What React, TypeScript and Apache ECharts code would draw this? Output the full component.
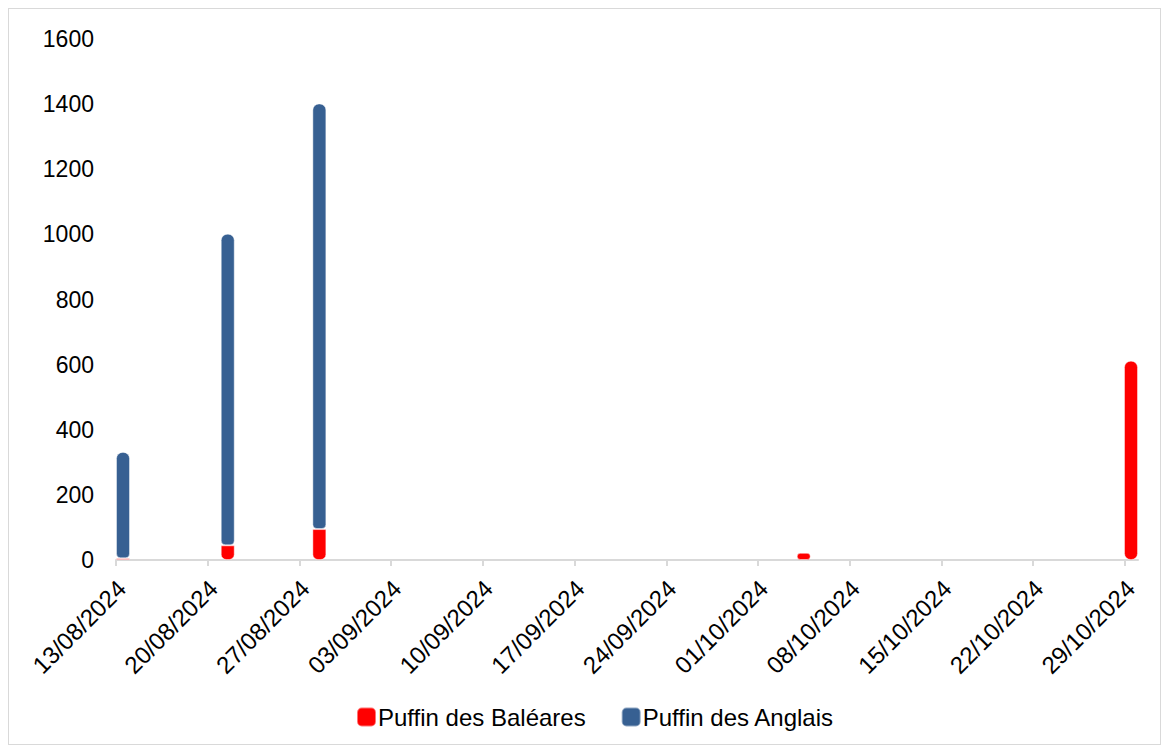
import React, { useEffect, useRef } from "react";
import * as echarts from "echarts";

const barDates = ["2024-08-13", "2024-08-21", "2024-08-28", "2024-10-04", "2024-10-29"];
const baleares = [5, 45, 95, 22, 612];
const anglais = [327, 957, 1307, 0, 0];
const tickLabels = [
  "13/08/2024", "20/08/2024", "27/08/2024", "03/09/2024", "10/09/2024", "17/09/2024",
  "24/09/2024", "01/10/2024", "08/10/2024", "15/10/2024", "22/10/2024", "29/10/2024",
];
const yTicks = [0, 200, 400, 600, 800, 1000, 1200, 1400, 1600];
const startDate = "2024-08-13";
const endDate = "2024-10-30";

const DAY = 86400000;
const toTime = (iso: string) => {
  const [y, m, d] = iso.split("-").map(Number);
  return Date.UTC(y, m - 1, d);
};
const toDay = (iso: string) => Math.round((toTime(iso) - toTime(startDate)) / DAY);
const labelToDay = (lab: string) => {
  const [d, m, y] = lab.split("/");
  return toDay(`${y}-${m}-${d}`);
};

export default function App() {
  const ref = useRef<HTMLDivElement>(null);
  useEffect(() => {
    if (!ref.current) return;
    const chart = echarts.init(ref.current, undefined, { renderer: "svg" });
    const tickPos = tickLabels.map(labelToDay);
    const labelMap: Record<number, string> = {};
    tickPos.forEach((p, i) => (labelMap[p] = tickLabels[i]));
    const font = "'Liberation Sans', Arial, sans-serif";
    const border = { borderColor: "rgba(255,255,255,0.45)", borderWidth: 1 };
    chart.setOption({
      animation: false,
      grid: { left: 107, right: 22, top: 30, bottom: 184, containLabel: false },
      xAxis: [
        {
          type: "time",
          // bars widen the extent by about half a bar on each side; start half a day in
          min: toTime(startDate) + DAY / 2,
          max: toTime(endDate) - DAY / 2,
          splitLine: { show: false },
          axisLine: { show: false },
          axisTick: { show: false },
          axisLabel: { show: false },
        },
        {
          type: "value",
          position: "bottom",
          min: 0,
          max: toDay(endDate),
          splitLine: { show: false },
          axisLine: { show: true, lineStyle: { color: "#d9d9d9", width: 2 } },
          axisTick: { show: true, customValues: tickPos, length: 6, lineStyle: { color: "#d9d9d9", width: 2 } },
          axisLabel: {
            customValues: tickPos,
            rotate: 45,
            margin: 30,
            padding: [0, -8, 0, 0],
            color: "#000",
            fontSize: 24,
            fontFamily: font,
            formatter: (v: number) => labelMap[v] ?? "",
          },
        },
      ],
      yAxis: {
        type: "value",
        min: yTicks[0],
        max: yTicks[yTicks.length - 1],
        interval: yTicks[1] - yTicks[0],
        splitLine: { show: false },
        axisLine: { show: false },
        axisTick: { show: false },
        axisLabel: {
          color: "#000",
          fontSize: 23,
          fontFamily: font,
          margin: 22,
          formatter: (v: number) => String(v),
        },
      },
      legend: {
        left: 342,
        top: 691,
        icon: "roundRect",
        itemWidth: 19,
        itemHeight: 19,
        itemGap: 35,
        textStyle: { color: "#000", fontSize: 24, fontFamily: font, padding: [0, 0, 0, -3] },
        data: ["Puffin des Baléares", "Puffin des Anglais"],
      },
      series: [
        {
          name: "Puffin des Baléares",
          type: "bar",
          stack: "total",
          xAxisIndex: 0,
          barWidth: 14,
          itemStyle: { color: "#ff0000", ...border },
          data: barDates.map((d, i) => ({
            value: [toTime(d) + DAY / 2, baleares[i]],
            itemStyle: { borderRadius: anglais[i] > 0 ? [0, 0, 5, 5] : 6 },
          })),
        },
        {
          name: "Puffin des Anglais",
          type: "bar",
          stack: "total",
          xAxisIndex: 0,
          barWidth: 14,
          itemStyle: { color: "#376092", borderRadius: [6, 6, 4, 4], ...border },
          data: barDates.map((d, i) => [toTime(d) + DAY / 2, anglais[i] === 0 ? null : anglais[i]]),
        },
      ],
    });
    return () => chart.dispose();
  }, []);
  return (
    <div
      ref={ref}
      style={{
        width: 1153,
        height: 737,
        border: "1px solid #d9d9d9",
        boxSizing: "border-box",
        background: "#fff",
      }}
    />
  );
}
